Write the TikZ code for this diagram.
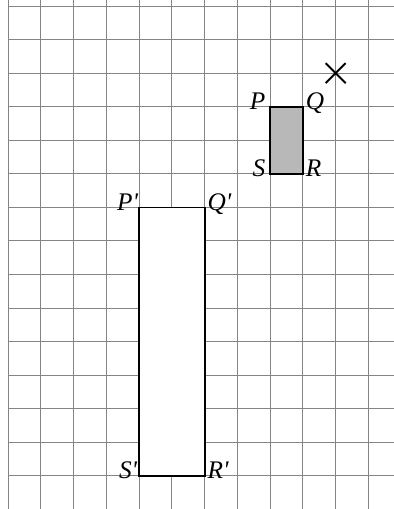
\documentclass[tikz,border=0pt]{standalone}
\usepackage{fontspec}
\setmainfont{Liberation Serif}
\usetikzlibrary{shapes.misc}
\definecolor{Grid}{HTML}{858585}
\definecolor{Shade}{HTML}{B8B8B8}
\newcommand{\pr}{\textquotesingle}
\begin{document}
\begin{tikzpicture}[x=1cm,y=1.0245cm,
    gridline/.style={Grid,line width=0.85pt},
    rect/.style={line width=1.6pt,black},
    lbl/.style={font=\fontsize{22}{22}\selectfont\itshape,inner sep=2.5pt,yshift=-0.08cm},
    centre/.style={cross out,draw,line width=1.7pt,minimum size=0.55cm,inner sep=0pt}
  ]
    \useasboundingbox (-0.245,-0.985) rectangle (11.77,14.18);
    % squared paper
    \foreach \i in {0,...,11}
      \draw[gridline] (\i,-0.985) -- (\i,14.18);
    \foreach \j in {0,...,14}
      \draw[gridline] (0,\j) -- (11.77,\j);
    % small rectangle PQRS
    \coordinate (P) at (8,11);
    \coordinate (Q) at (9,11);
    \coordinate (R) at (9,9);
    \coordinate (S) at (8,9);
    \draw[rect,fill=Shade] (P) -- (Q) -- (R) -- (S) -- cycle;
    % image P'Q'R'S'
    \coordinate (P1) at (4,8);
    \coordinate (Q1) at (6,8);
    \coordinate (R1) at (6,0);
    \coordinate (S1) at (4,0);
    \draw[rect,fill=white] (P1) -- (Q1) -- (R1) -- (S1) -- cycle;
    % centre
    \node[centre] (O) at (10,12) {};
    % labels
    \node[lbl,anchor=base east,inner sep=4pt] (labP) at (P) {P};
    \node[lbl,anchor=base west] (labQ) at (Q) {Q};
    \node[lbl,anchor=base west] (labR) at (R) {R};
    \node[lbl,anchor=base east,inner sep=4pt] (labS) at (S) {S};
    \node[lbl,anchor=base east,inner sep=0.8pt] (labP1) at (P1) {P\pr};
    \node[lbl,anchor=base west] (labQ1) at (Q1) {Q\pr};
    \node[lbl,anchor=base west] (labR1) at (R1) {R\pr};
    \node[lbl,anchor=base east,inner sep=1.5pt] (labS1) at (S1) {S\pr};
  \end{tikzpicture}
\end{document}
